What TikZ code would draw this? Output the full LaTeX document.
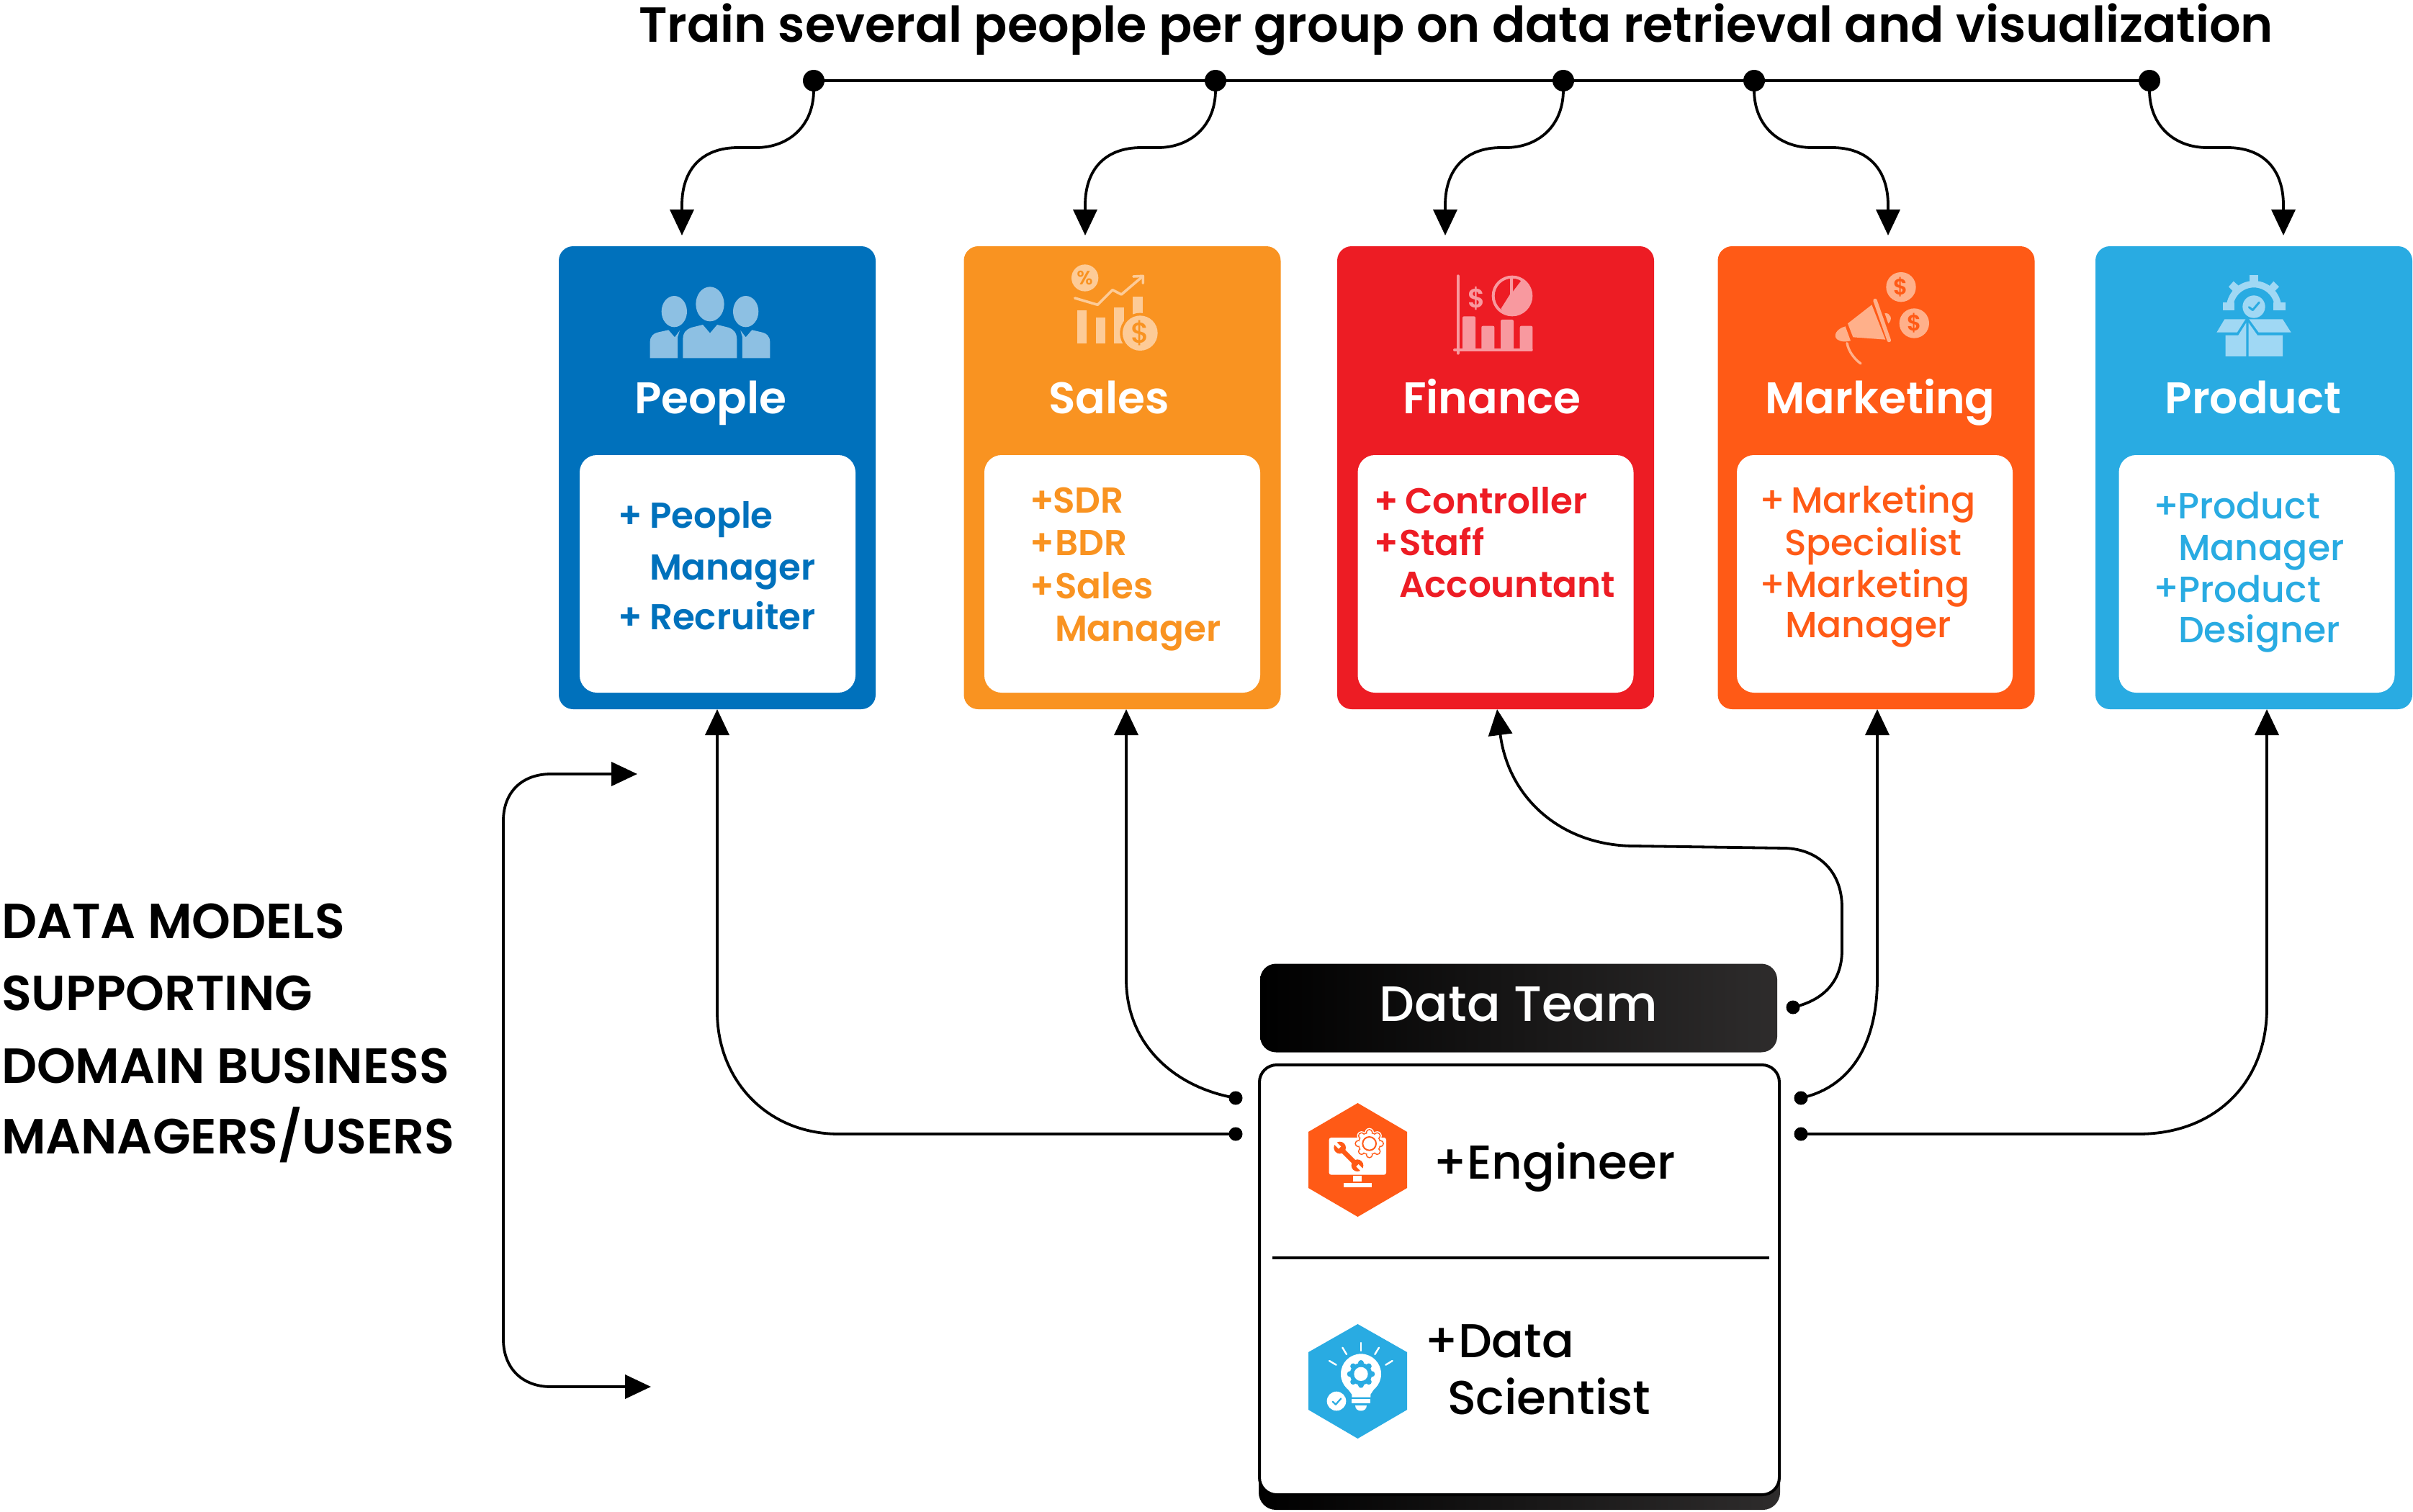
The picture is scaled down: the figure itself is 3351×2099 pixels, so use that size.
\documentclass[tikz,border=0pt]{standalone}
\usepackage{fontspec}
\usetikzlibrary{arrows.meta}
\setmainfont{Poppins}
\newfontfamily\fmed{Poppins Medium}
\newfontfamily\fsemi{Poppins SemiBold}
\definecolor{cPeople}{HTML}{0071BC}
\definecolor{cSales}{HTML}{F99321}
\definecolor{cFinance}{HTML}{ED1C24}
\definecolor{cMarketing}{HTML}{FF5A16}
\definecolor{cProduct}{HTML}{29ABE2}
\definecolor{tPeople}{HTML}{8DC0E3}
\definecolor{tSales}{HTML}{FDCB97}
\definecolor{tFinance}{HTML}{F8999F}
\definecolor{tMarketing}{HTML}{FFB08A}
\definecolor{tProduct}{HTML}{A0D8F4}
\definecolor{cDark}{HTML}{2E2C2C}
\tikzset{
  card/.style={rectangle,rounded corners=20pt,minimum width=440pt,minimum height=643pt,inner sep=0pt},
  innercard/.style={rectangle,rounded corners=24pt,fill=white,minimum width=383pt,minimum height=330pt,inner sep=0pt},
  dotbig/.style={circle,fill=black,minimum size=30pt,inner sep=0pt},
  dotsmall/.style={circle,fill=black,minimum size=19pt,inner sep=0pt},
  conn/.style={draw=black,line width=3.8pt},
  arrowed/.style={conn,-{Triangle[length=36pt,width=33pt]}},
  doublearrowed/.style={conn,{Triangle[length=36pt,width=33pt]}-{Triangle[length=36pt,width=33pt]}},
  lbl/.style={anchor=base west,inner sep=0pt,outer sep=0pt},
  titlelbl/.style={anchor=base,inner sep=0pt,outer sep=0pt,text=white,font=\fsemi\fontsize{61.5}{70}\selectfont},
  listsemi/.style={lbl,font=\fsemi\fontsize{50}{60}\selectfont},
  listmed/.style={lbl,font=\fmed\fontsize{50.5}{60}\selectfont},
  bigl/.style={lbl,font=\fmed\fontsize{66}{80}\selectfont},
  sidel/.style={lbl,font=\fsemi\fontsize{68.5}{80}\selectfont},
  icon/.style={x=0.3333pt,y=-0.3333pt},
}
\begin{document}
\begin{tikzpicture}[x=1pt,y=-1pt]
\useasboundingbox (0,0) rectangle (3351,2099);

% title
\node[lbl,font=\fsemi\fontsize{68.4}{80}\selectfont] (title) at (887,58) {Train several people per group on data retrieval and visualization};

% cards
\node[card,fill=cPeople] (people) at (996,663.5) {};
\node[card,fill=cSales] (sales) at (1558.5,663.5) {};
\node[card,fill=cFinance] (finance) at (2077,663.5) {};
\node[card,fill=cMarketing] (marketing) at (2605.5,663.5) {};
\node[card,fill=cProduct] (product) at (3130,663.5) {};
\node[innercard] (ipeople) at (996.5,797) {};
\node[innercard] (isales) at (1558.5,797) {};
\node[innercard] (ifinance) at (2077,797) {};
\node[innercard] (imarketing) at (2603.5,797) {};
\node[innercard] (iproduct) at (3134,797) {};

% card titles
\node[titlelbl] (tpeople) at (987,574) {People};
\node[titlelbl] (tsales) at (1540,574) {Sales};
\node[titlelbl] (tfinance) at (2072,574) {Finance};
\node[titlelbl] (tmarketing) at (2611,574) {Marketing};
\node[titlelbl] (tproduct) at (3129,574) {Product};

% people list
\begin{scope}[text=cPeople]
\node[listsemi] (lp1) at (858,733) {+};
\node[listsemi] (lp2) at (902,733) {People};
\node[listsemi] (lp3) at (902,805) {Manager};
\node[listsemi] (lp4) at (858,874) {+};
\node[listsemi] (lp5) at (902,874) {Recruiter};
\end{scope}
% sales list
\begin{scope}[text=cSales]
\node[listsemi] (ls1) at (1430,712) {+};
\node[listsemi] (ls2) at (1462,712) {SDR};
\node[listsemi] (ls3) at (1430,771) {+};
\node[listsemi] (ls4) at (1465,771) {BDR};
\node[listsemi] (ls5) at (1430,831) {+};
\node[listsemi] (ls6) at (1465,831) {Sales};
\node[listsemi] (ls7) at (1465,890) {Manager};
\end{scope}
% finance list
\begin{scope}[text=cFinance]
\node[listsemi] (lf1) at (1908,713) {+};
\node[listsemi] (lf2) at (1951,713) {Controller};
\node[listsemi] (lf3) at (1908,771) {+};
\node[listsemi] (lf4) at (1943,771) {Staff};
\node[listsemi] (lf5) at (1943,829) {Accountant};
\end{scope}
% marketing list
\begin{scope}[text=cMarketing]
\node[listmed] (lm1) at (2443,712) {+};
\node[listmed] (lm2) at (2487,712) {Marketing};
\node[listmed] (lm3) at (2478,771) {Specialist};
\node[listmed] (lm4) at (2443,829) {+};
\node[listmed] (lm5) at (2479,829) {Marketing};
\node[listmed] (lm6) at (2479,885) {Manager};
\end{scope}
% product list
\begin{scope}[text=cProduct]
\node[listmed] (lr1) at (2990,720) {+};
\node[listmed] (lr2) at (3024,720) {Product};
\node[listmed] (lr3) at (3025,778) {Manager};
\node[listmed] (lr4) at (2990,834) {+};
\node[listmed] (lr5) at (3025,836) {Product};
\node[listmed] (lr6) at (3025,892) {Designer};
\end{scope}

% people icon
\begin{scope}[shift={(880,360)},icon]
\fill[tPeople] (318,187) ellipse [x radius=59,y radius=72];
\fill[tPeople] (169,218) ellipse [x radius=53,y radius=65];
\fill[tPeople] (467,218) ellipse [x radius=53,y radius=65];
\fill[tPeople] (205,412) -- (205,335) .. controls (205,305) and (220,292) .. (240,285) -- (288,273) -- (318,308) -- (348,273) -- (396,285) .. controls (415,292) and (430,305) .. (430,335) -- (430,412) -- cycle;
\fill[tPeople] (68,412) -- (68,345) .. controls (68,320) and (85,308) .. (100,305) -- (145,295) -- (171,325) -- (192,297) -- (183,325) -- (183,412) -- cycle;
\fill[tPeople] (568,412) -- (568,345) .. controls (568,320) and (551,308) .. (536,305) -- (493,295) -- (467,325) -- (445,297) -- (453,325) -- (453,412) -- cycle;
\end{scope}

% sales icon
\begin{scope}[shift={(1470,360)},icon]
\fill[tSales] (110,78) circle [radius=56];
\node[inner sep=0pt,text=cSales,font=\fsemi\fontsize{27}{27}\selectfont] (ipct) at (110,78) {\%};
\draw[tSales,line width=3.6pt,line join=round,line cap=round] (68,162) -- (163,190) -- (225,128) -- (262,147) -- (350,72);
\draw[tSales,line width=3.6pt,line join=round,line cap=round] (312,72) -- (352,70) -- (352,100);
\fill[tSales] (77,213) rectangle (117,350);
\fill[tSales] (155,242) rectangle (195,350);
\fill[tSales] (232,200) rectangle (272,350);
\fill[tSales] (310,155) rectangle (350,250);
\fill[cSales] (340,308) circle [radius=84];
\fill[tSales] (340,308) circle [radius=73];
\node[inner sep=0pt,text=cSales,font=\fmed\fontsize{40}{40}\selectfont] (idol) at (340,308) {\$};
\end{scope}

% finance icon
\begin{scope}[shift={(2000,360)},icon]
\draw[tFinance,line width=4pt,line cap=round] (74,70) -- (74,392);
\draw[tFinance,line width=4pt,line cap=round] (60,378) -- (380,378);
\fill[tFinance,rounded corners=2pt] (93,238) rectangle (147,378);
\fill[tFinance,rounded corners=2pt] (172,278) rectangle (226,378);
\fill[tFinance,rounded corners=2pt] (252,252) rectangle (306,378);
\fill[tFinance,rounded corners=2pt] (332,278) rectangle (385,384);
\node[inner sep=0pt,text=tFinance,font=\fsemi\fontsize{37}{37}\selectfont] (fdol) at (153,165) {\$};
\draw[tFinance,line width=4pt] (300,153) circle [radius=79];
\draw[tFinance,line width=4pt] (297,78) -- (297,148) -- (258,210);
\begin{scope}
\clip (300,153) circle [radius=81];
\fill[tFinance] (303,135) -- (360,60) -- (420,60) -- (420,260) -- (230,260) -- (258,208) -- cycle;
\end{scope}
\end{scope}

% marketing icon
\begin{scope}[shift={(2530,360)},icon]
\fill[tMarketing] (330,116) circle [radius=62];
\fill[tMarketing] (385,267) circle [radius=62];
\node[inner sep=0pt,text=cMarketing,font=\fsemi\fontsize{31}{31}\selectfont] (mdol1) at (330,116) {\$};
\node[inner sep=0pt,text=cMarketing,font=\fsemi\fontsize{31}{31}\selectfont] (mdol2) at (385,267) {\$};
\fill[tMarketing] (208,190) -- (108,268) -- (130,325) -- (265,335) -- cycle;
\draw[tMarketing,line width=5.4pt,line cap=round] (222,172) -- (280,338);
\fill[tMarketing] (262,225) .. controls (285,222) and (298,250) .. (277,268) -- cycle;
\fill[tMarketing] (98,280) .. controls (60,290) and (45,320) .. (65,335) .. controls (80,345) and (100,345) .. (120,340) -- cycle;
\draw[tMarketing,line width=3.4pt,line cap=round] (105,350) .. controls (112,385) and (135,415) .. (162,435);
\end{scope}

% product icon
\begin{scope}[shift={(3050,370)},icon]
\begin{scope}
\clip (60,0) rectangle (420,182);
\draw[tProduct,line width=9.3pt] (240,175) circle [radius=101];
\end{scope}
\fill[tProduct] (223,35) rectangle (258,75);
\fill[tProduct] (155,62) -- (178,82) -- (155,105) -- (135,85) -- cycle;
\fill[tProduct] (322,62) -- (345,85) -- (325,105) -- (302,85) -- cycle;
\fill[tProduct] (110,150) rectangle (158,182);
\fill[tProduct] (322,150) rectangle (372,182);
\fill[tProduct] (240,168) circle [radius=47];
\draw[cProduct,line width=3pt,line cap=round,line join=round] (220,170) -- (235,182) -- (262,150);
\fill[tProduct] (118,220) -- (205,220) -- (170,275) -- (85,275) -- cycle;
\fill[tProduct] (220,220) -- (360,220) -- (395,275) -- (260,275) -- cycle;
\fill[tProduct] (122,287) -- (175,287) -- (208,235) -- (208,375) -- (122,375) -- cycle;
\fill[tProduct] (218,235) -- (255,287) -- (360,287) -- (360,375) -- (218,375) -- cycle;
\end{scope}

% data team
\node[rectangle,rounded corners=22pt,left color=black,right color=cDark,minimum width=718pt,minimum height=123pt,inner sep=0pt] (team) at (2109,1400) {};
\node[anchor=base,inner sep=0pt,text=white,font=\fmed\fontsize{69}{80}\selectfont] (teamtxt) at (2109,1418) {Data Team};
\node[rectangle,rounded corners=24pt,left color=black,right color=cDark,minimum width=724pt,minimum height=200pt,inner sep=0pt] (shadow) at (2110,1997) {};
\node[rectangle,rounded corners=24pt,fill=white,draw=black,line width=4pt,minimum width=722pt,minimum height=597pt,inner sep=0pt] (members) at (2110,1777.5) {};
\coordinate (divl) at (1767,1747);
\coordinate (divr) at (2457,1747);
\draw[conn] (divl) -- (divr);

% engineer hex
\fill[cMarketing] (1885.5,1532) -- (1954,1572) -- (1954,1650) -- (1885.5,1690) -- (1817,1650) -- (1817,1572) -- cycle;
\begin{scope}[shift={(1790,1510)},icon]
\fill[white,rounded corners=3pt] (167,210) rectangle (405,365);
\fill[white] (267,370) rectangle (303,393);
\fill[white] (227,400) rectangle (345,418);
\foreach \a in {0,45,...,315} \fill[white] (335,235) ++(\a:46) circle [radius=19];
\fill[white] (335,235) circle [radius=50];
\foreach \a in {0,45,...,315} \fill[cMarketing] (335,235) ++(\a:46) circle [radius=15];
\fill[cMarketing] (335,235) circle [radius=47];
\foreach \a in {0,45,...,315} \fill[white] (335,235) ++(\a:46) circle [radius=10];
\fill[white] (335,235) circle [radius=43];
\draw[cMarketing,line width=2pt] (335,235) circle [radius=28];
\draw[cMarketing,line width=6.5pt] (212,252) -- (285,326);
\fill[cMarketing] (212,252) circle [radius=25];
\fill[cMarketing] (285,326) circle [radius=25];
\draw[white,line width=4.5pt] (212,252) -- (190,230);
\draw[white,line width=4.5pt] (285,326) -- (307,348);
\end{scope}
\node[bigl] (eng) at (1990,1637) {+Engineer};

% scientist hex
\fill[cProduct] (1885.5,1839) -- (1954,1878) -- (1954,1958) -- (1885.5,1998) -- (1817,1958) -- (1817,1878) -- cycle;
\begin{scope}[shift={(1790,1820)},icon]
\draw[white,line width=2.4pt,line cap=round] (300,135) -- (300,168);
\draw[white,line width=2.4pt,line cap=round] (223,155) -- (240,183);
\draw[white,line width=2.4pt,line cap=round] (375,155) -- (358,183);
\draw[white,line width=2.4pt,line cap=round] (168,210) -- (197,227);
\draw[white,line width=2.4pt,line cap=round] (431,210) -- (403,227);
\fill[white] (300,265) circle [radius=84];
\fill[white] (240,320) -- (360,320) -- (340,350) -- (340,362) -- (262,362) -- (262,350) -- cycle;
\fill[white] (260,370) rectangle (340,388);
\fill[white] (277,396) -- (323,396) .. controls (323,425) and (277,425) .. (277,396) -- cycle;
\foreach \a in {0,45,...,315} \fill[cProduct] (300,265) ++(\a:46) circle [radius=12];
\fill[cProduct] (300,265) circle [radius=46];
\fill[white] (300,265) circle [radius=29];
\fill[white] (198,378) circle [radius=40];
\draw[cProduct,line width=2.2pt,line cap=round,line join=round] (182,380) -- (195,392) -- (217,367);
\end{scope}
\node[bigl] (ds1) at (1978,1885) {+Data};
\node[bigl] (ds2) at (2010,1964) {Scientist};

% side text
\node[sidel] (s1) at (2,1303) {DATA MODELS};
\node[sidel] (s2) at (2,1403) {SUPPORTING};
\node[sidel] (s3) at (2,1504) {DOMAIN BUSINESS};
\node[sidel] (s4) at (2,1602) {MANAGERS/USERS};

% top dots and connectors
\node[dotbig] (t1) at (1130,112) {};
\node[dotbig] (t2) at (1688,112) {};
\node[dotbig] (t3) at (2171,112) {};
\node[dotbig] (t4) at (2436,112) {};
\node[dotbig] (t5) at (2985,112) {};
\coordinate (a1) at (947,327);
\coordinate (a2) at (1507,327);
\coordinate (a3) at (2007,327);
\coordinate (a4) at (2622,327);
\coordinate (a5) at (3171,327);
\draw[conn] (t1.center) -- (t5.center);
\draw[arrowed] (t1.center) -- (1130,125) .. controls (1130,175) and (1095,205) .. (1050,205) -- (1025,205) .. controls (975,205) and (947,235) .. (947,285) -- (a1);
\draw[arrowed] (t2.center) -- (1688,125) .. controls (1688,175) and (1653,205) .. (1608,205) -- (1585,205) .. controls (1535,205) and (1507,235) .. (1507,285) -- (a2);
\draw[arrowed] (t3.center) -- (2171,125) .. controls (2171,175) and (2136,205) .. (2091,205) -- (2085,205) .. controls (2035,205) and (2007,235) .. (2007,285) -- (a3);
\draw[arrowed] (t4.center) -- (2436,125) .. controls (2436,175) and (2471,205) .. (2516,205) -- (2544,205) .. controls (2594,205) and (2622,235) .. (2622,285) -- (a4);
\draw[arrowed] (t5.center) -- (2985,125) .. controls (2985,175) and (3020,205) .. (3065,205) -- (3093,205) .. controls (3143,205) and (3171,235) .. (3171,285) -- (a5);

% lower dots and connectors
\node[dotsmall] (dp) at (1716,1575) {};
\node[dotsmall] (ds) at (1716,1525) {};
\node[dotsmall] (df) at (2490,1399) {};
\node[dotsmall] (dm) at (2501,1525) {};
\node[dotsmall] (dr) at (2501,1575) {};
\coordinate (ap) at (996,985);
\coordinate (as) at (1564,985);
\coordinate (af) at (2079,985);
\coordinate (am) at (2607,985);
\coordinate (ar) at (3148,985);
\draw[arrowed] (dp.center) -- (1165,1575) .. controls (1065,1575) and (996,1500) .. (996,1405) -- (ap);
\draw[arrowed] (ds.center) .. controls (1630,1510) and (1564,1450) .. (1564,1360) -- (as);
\draw[arrowed] (df.center) .. controls (2530,1390) and (2558,1365) .. (2558,1320) -- (2558,1260) .. controls (2558,1210) and (2525,1180) .. (2480,1178) -- (2270,1175) .. controls (2170,1175) and (2095,1110) .. (af);
\draw[arrowed] (dm.center) .. controls (2570,1510) and (2607,1450) .. (2607,1360) -- (am);
\draw[arrowed] (dr.center) -- (2970,1575) .. controls (3075,1575) and (3148,1505) .. (3148,1400) -- (ar);

% side double arrow
\coordinate (sa) at (885,1075);
\coordinate (sb) at (904,1926);
\draw[doublearrowed] (sa) -- (765,1075) .. controls (725,1075) and (699,1100) .. (699,1140) -- (699,1860) .. controls (699,1900) and (725,1926) .. (765,1926) -- (sb);
\end{tikzpicture}
\end{document}
